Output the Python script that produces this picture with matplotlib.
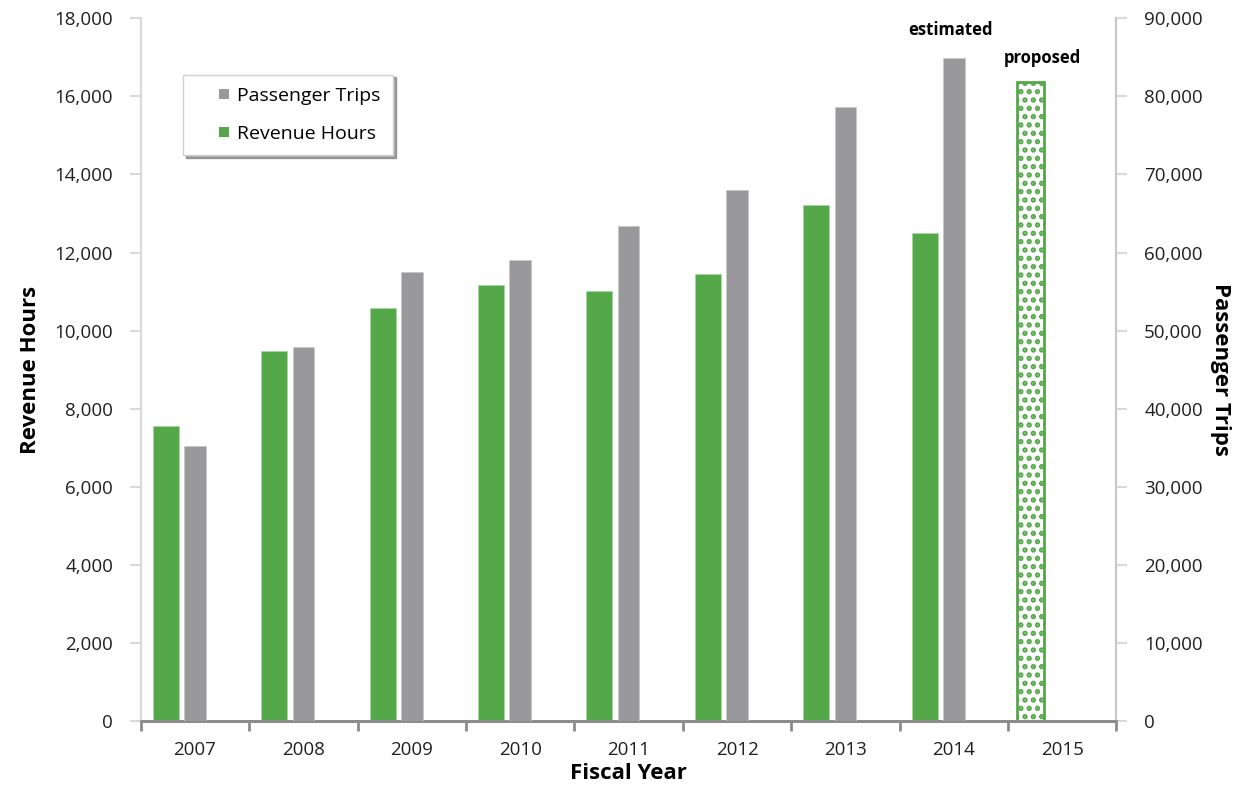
import matplotlib
matplotlib.use("Agg")
import matplotlib.pyplot as plt
import matplotlib.ticker as plticker
from matplotlib.patches import Rectangle
from matplotlib.legend_handler import HandlerPatch
import numpy as np

plt.rcParams['font.family'] = ['Open Sans', 'DejaVu Sans']
plt.rcParams['hatch.linewidth'] = 2.6

years = ['2007', '2008', '2009', '2010', '2011', '2012', '2013', '2014', '2015']
revenue_hours = [7550, 9475, 10570, 11160, 11010, 11440, 13210, 12490]
passenger_trips = [35200, 47900, 57500, 59000, 63400, 68000, 78600, 84900]
proposed_hours = 16360

green = '#55A84A'
gray = '#99999B'


def square_right(legend, orig_handle, xdescent, ydescent, width, height, fontsize):
    # small square at the right end of the handle box
    s = 0.52 * fontsize
    return Rectangle((-xdescent + width - s, -ydescent + (height - s) / 2), s, s)


fig, ax1 = plt.subplots(figsize=(12.46, 7.95), dpi=100)
fig.subplots_adjust(left=0.113, right=0.896, top=0.977, bottom=0.093)
ax2 = ax1.twinx()

x = np.arange(len(years))
xh = x[:len(revenue_hours)]
ax1.bar(xh - 0.27, revenue_hours, width=0.24, color=green, edgecolor='#A8D7A0', linewidth=0.6,
        zorder=3)
ax2.bar(xh, passenger_trips, width=0.2, color=gray, edgecolor='#C8C8C8', linewidth=0.6,
        zorder=3)
ax1.bar(x[-1] - 0.29, proposed_hours, width=0.25, facecolor='white', edgecolor=green,
        hatch='..', linewidth=2, zorder=3)

ax1.annotate('estimated', xy=(xh[-1] - 0.03, passenger_trips[-1] / 5), xytext=(0, 14),
             textcoords='offset points', ha='center', va='bottom', fontsize=12, fontweight='bold')
ax1.annotate('proposed', xy=(x[-1] - 0.18, proposed_hours), xytext=(0, 11),
             textcoords='offset points', ha='center', va='bottom', fontsize=12, fontweight='bold')

ax1.set_xlim(-0.5, len(years) - 0.5)
ax1.set_ylim(0, 18000)
ax2.set_ylim(0, 90000)
ax1.yaxis.set_major_locator(plticker.MultipleLocator(2000))
ax2.yaxis.set_major_locator(plticker.MultipleLocator(10000))
ax1.yaxis.set_major_formatter(plticker.StrMethodFormatter('{x:,.0f}'))
ax2.yaxis.set_major_formatter(plticker.StrMethodFormatter('{x:,.0f}'))

ax1.set_xticks(x)
ax1.set_xticklabels(years)
ax1.set_xticks(np.arange(-0.5, len(years), 1.0), minor=True)
ax1.tick_params(axis='x', which='major', length=0, pad=14, labelsize=13.5, colors='#231F20')
ax1.tick_params(axis='x', which='minor', length=7, width=2, color='#8C8C8C')
ax1.tick_params(axis='y', length=8, width=1.5, color='#D9D9D9', labelsize=13.5, pad=12,
                labelcolor='#231F20')
ax2.tick_params(axis='y', length=8, width=1.5, color='#D9D9D9', labelsize=13.5, pad=12,
                labelcolor='#231F20')

for ax in (ax1, ax2):
    ax.spines['top'].set_visible(False)
    ax.spines['left'].set_color('#D9D9D9')
    ax.spines['right'].set_color('#C8C8C8')
    ax.spines['left'].set_linewidth(1.5)
    ax.spines['right'].set_linewidth(1.5)
    ax.spines['bottom'].set_color('#8C8C8C')
    ax.spines['bottom'].set_linewidth(2)

ax1.set_xlabel('Fiscal Year', fontsize=16, fontweight='bold', labelpad=3)
ax1.set_ylabel('Revenue Hours', fontsize=16, fontweight='bold', labelpad=10)
ax2.set_ylabel('Passenger Trips', fontsize=16, fontweight='bold', rotation=270, labelpad=20)

handles = [Rectangle((0, 0), 1, 1, facecolor=gray, edgecolor='none'),
           Rectangle((0, 0), 1, 1, facecolor=green, edgecolor='none')]
labels = ['Passenger Trips', 'Revenue Hours']
leg = ax1.legend(handles, labels, loc='upper left', bbox_to_anchor=(0.043, 0.92),
                 fontsize=14, frameon=True, fancybox=False, shadow=True,
                 borderpad=0.65, labelspacing=1.0, handlelength=1.75, handleheight=0.7,
                 handletextpad=0.4, borderaxespad=0,
                 handler_map={Rectangle: HandlerPatch(patch_func=square_right)})
leg.get_frame().set_edgecolor('#D0D0D0')
leg.set_zorder(10)

fig.savefig('out.png', dpi=100)
